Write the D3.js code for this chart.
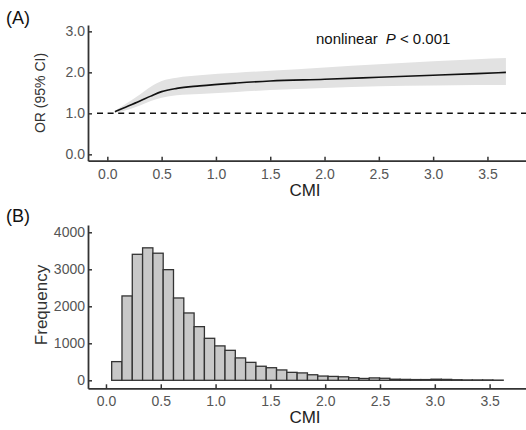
<!DOCTYPE html>
<html>
<head>
<meta charset="utf-8">
<script src="https://cdn.jsdelivr.net/npm/d3@7"></script>
<style>
  body { margin: 0; background: #fff; }
  svg { display: block; font-family: "Liberation Sans", Arial, sans-serif; }
</style>
</head>
<body>
<div id="chart"></div>
<script>
// Panel A: restricted cubic spline OR curve
const orCmi  = [0.07, 0.15, 0.30, 0.40, 0.50, 0.64, 0.85, 1.19, 1.50, 2.00, 2.50, 3.00, 3.40, 3.67];
const orFit  = [1.04, 1.13, 1.30, 1.42, 1.53, 1.61, 1.67, 1.74, 1.79, 1.83, 1.88, 1.93, 1.97, 2.00];
const orLow  = [1.02, 1.06, 1.19, 1.30, 1.38, 1.44, 1.47, 1.52, 1.57, 1.62, 1.66, 1.68, 1.69, 1.69];
const orHigh = [1.06, 1.20, 1.46, 1.65, 1.79, 1.87, 1.93, 1.99, 2.04, 2.12, 2.20, 2.27, 2.32, 2.35];
const refOR = 1.0;
const yTicksA = [0, 1, 2, 3];

// Panel B: histogram of CMI
const binEdges = [0.052, 0.146, 0.240, 0.334, 0.428, 0.522, 0.616, 0.710, 0.804, 0.898,
                  0.992, 1.086, 1.180, 1.274, 1.368, 1.462, 1.556, 1.650, 1.744, 1.838,
                  1.932, 2.026, 2.120, 2.214, 2.308, 2.402, 2.496, 2.590, 2.684, 2.778,
                  2.872, 2.966, 3.060, 3.154, 3.248, 3.342, 3.436, 3.530, 3.624];
const binCounts = [505, 2280, 3405, 3580, 3435, 2990, 2225, 1820, 1450, 1135,
                   930, 810, 605, 485, 380, 340, 280, 215, 200, 150,
                   115, 105, 95, 70, 50, 65, 55, 30, 25, 20,
                   20, 30, 25, 15, 10, 10, 10, 5];
const yTicksB = [0, 1000, 2000, 3000, 4000];

const xTicks = [0, 0.5, 1, 1.5, 2, 2.5, 3, 3.5];

const W = 526, H = 430;
const svg = d3.select("#chart").append("svg")
    .attr("width", W).attr("height", H);

const axisColor = "#333";
const tickText = "#555";

function styleAxis(g) {
    g.select(".domain").attr("stroke", axisColor).attr("stroke-width", 1.8);
    g.selectAll(".tick line").attr("stroke", axisColor).attr("stroke-width", 1.5);
    g.selectAll(".tick text")
        .attr("fill", tickText)
        .style("font-size", "14px")
        .style("font-family", "'Liberation Sans', Arial, sans-serif");
}

// ---------- Panel A ----------
const xA = d3.scaleLinear().domain([-0.178, 3.855]).range([88, 526]);
const yA = d3.scaleLinear().domain([-0.155, 3.155]).range([160.7, 25]);

const pts = orCmi.map((c, i) => ({c: c, fit: orFit[i], lo: orLow[i], hi: orHigh[i]}));

svg.append("path")
    .datum(pts)
    .attr("fill", "#e2e2e2")
    .attr("d", d3.area()
        .x(d => xA(d.c))
        .y0(d => yA(d.lo))
        .y1(d => yA(d.hi))
        .curve(d3.curveMonotoneX));

svg.append("line")
    .attr("x1", xA(-0.095)).attr("x2", xA(3.855))
    .attr("y1", yA(refOR)).attr("y2", yA(refOR))
    .attr("stroke", "#111")
    .attr("stroke-width", 1.5)
    .attr("stroke-dasharray", "6,4.6");

svg.append("path")
    .datum(pts)
    .attr("fill", "none")
    .attr("stroke", "#111")
    .attr("stroke-width", 1.6)
    .attr("d", d3.line()
        .x(d => xA(d.c))
        .y(d => yA(d.fit))
        .curve(d3.curveMonotoneX));

svg.append("g")
    .attr("transform", "translate(0,160.7)")
    .call(d3.axisBottom(xA).tickValues(xTicks).tickFormat(d3.format(".1f"))
        .tickSize(-4).tickSizeOuter(0).tickPadding(8))
    .call(styleAxis);

svg.append("g")
    .attr("transform", "translate(88,0)")
    .call(d3.axisLeft(yA).tickValues(yTicksA).tickFormat(d3.format(".1f"))
        .tickSize(-4).tickSizeOuter(0).tickPadding(3))
    .call(styleAxis);

svg.append("text")
    .attr("x", 305).attr("y", 196)
    .attr("text-anchor", "middle")
    .attr("fill", "#222")
    .style("font-size", "17px")
    .text("CMI");

svg.append("text")
    .attr("transform", "translate(45,93) rotate(-90)")
    .attr("text-anchor", "middle")
    .attr("fill", "#333")
    .style("font-size", "14px")
    .text("OR (95% CI)");

const pText = svg.append("text")
    .attr("x", 316).attr("y", 44)
    .attr("fill", "#111")
    .style("font-size", "15px");
pText.append("tspan").text("nonlinear");
pText.append("tspan").attr("dx", 8).style("font-style", "italic").text("P");
pText.append("tspan").text(" < 0.001");

svg.append("text")
    .attr("x", 6).attr("y", 24)
    .attr("fill", "#111")
    .style("font-size", "18px")
    .text("(A)");

// ---------- Panel B ----------
const xB = d3.scaleLinear().domain([-0.164, 3.832]).range([88, 526]);
const yB = d3.scaleLinear().domain([-216, 4197]).range([388.3, 225]);

const bins = binCounts.map((n, i) => ({x0: binEdges[i], x1: binEdges[i + 1], n: n}));

svg.append("g")
    .selectAll("rect")
    .data(bins)
    .enter()
    .append("rect")
    .attr("x", d => xB(d.x0))
    .attr("y", d => yB(d.n))
    .attr("width", d => xB(d.x1) - xB(d.x0))
    .attr("height", d => yB(0) - yB(d.n))
    .attr("fill", "#c8c8c8")
    .attr("stroke", "#333")
    .attr("stroke-width", 1.3);

svg.append("g")
    .attr("transform", "translate(0,388.3)")
    .call(d3.axisBottom(xB).tickValues(xTicks).tickFormat(d3.format(".1f"))
        .tickSize(-4).tickSizeOuter(0).tickPadding(8))
    .call(styleAxis);

svg.append("g")
    .attr("transform", "translate(88,0)")
    .call(d3.axisLeft(yB).tickValues(yTicksB).tickFormat(d3.format("d"))
        .tickSize(-4).tickSizeOuter(0).tickPadding(3))
    .call(styleAxis);

svg.append("text")
    .attr("x", 305).attr("y", 423)
    .attr("text-anchor", "middle")
    .attr("fill", "#222")
    .style("font-size", "17px")
    .text("CMI");

svg.append("text")
    .attr("transform", "translate(47,305) rotate(-90)")
    .attr("text-anchor", "middle")
    .attr("fill", "#333")
    .style("font-size", "17px")
    .text("Frequency");

svg.append("text")
    .attr("x", 6).attr("y", 222)
    .attr("fill", "#111")
    .style("font-size", "18px")
    .text("(B)");
</script>
</body>
</html>
